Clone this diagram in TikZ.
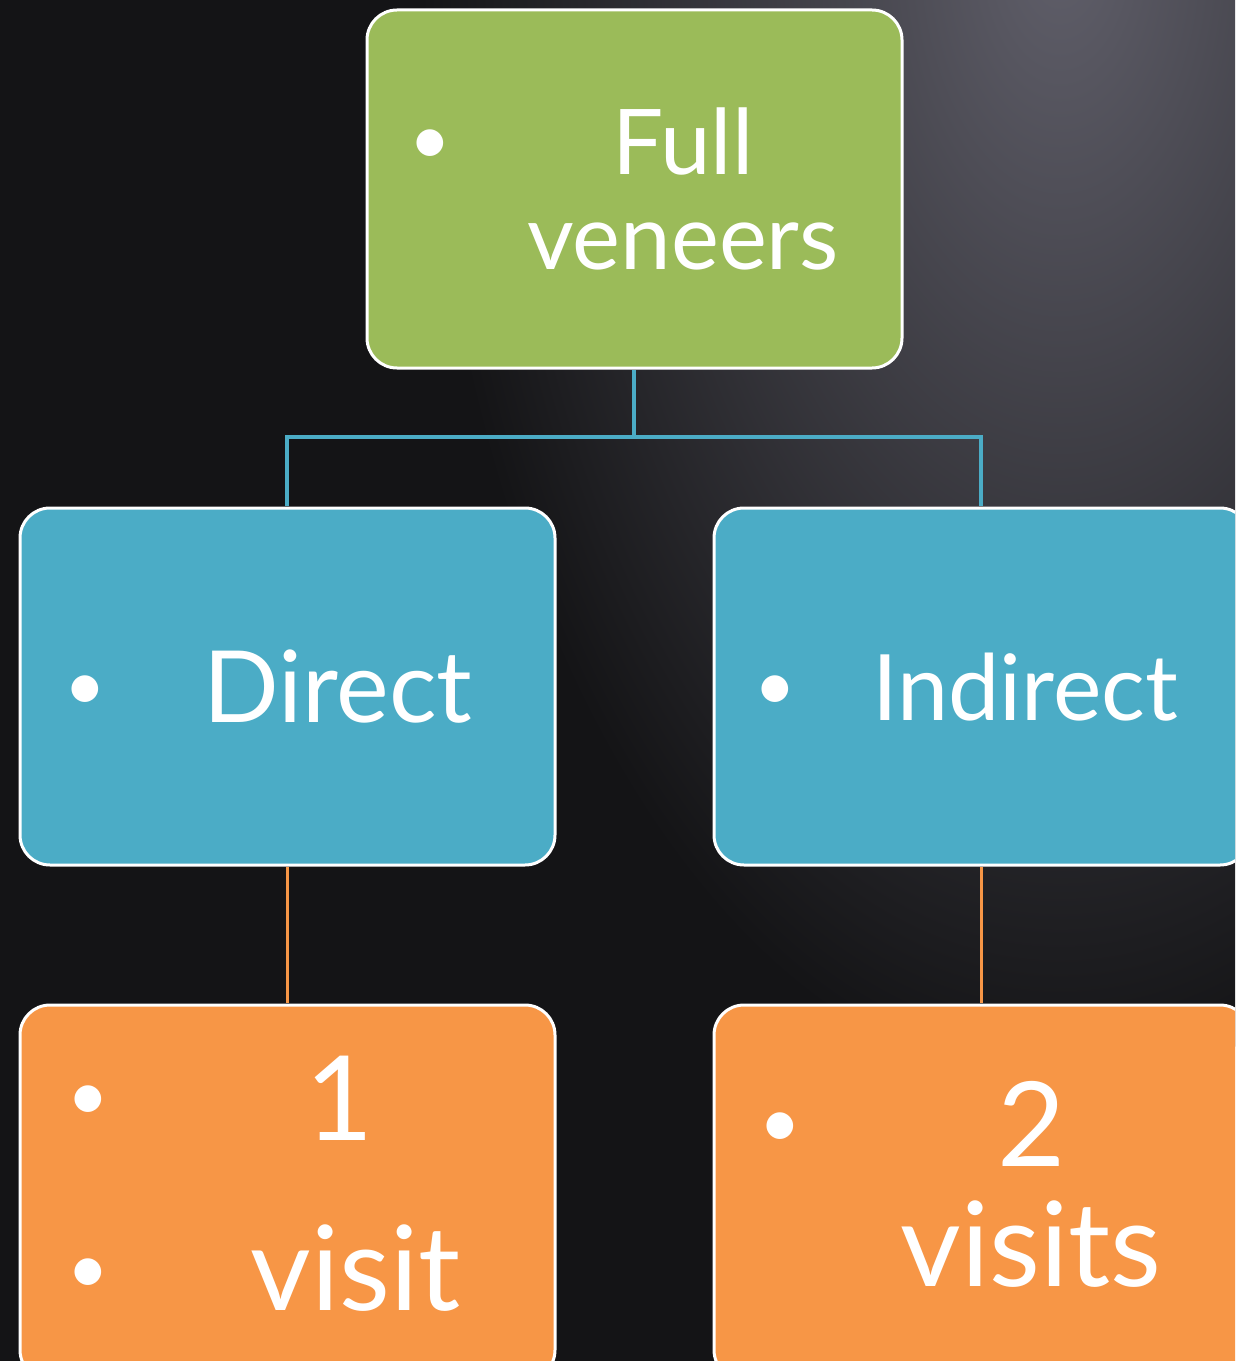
\documentclass[tikz,border=0pt]{standalone}
\usepackage{fontspec}
\setmainfont{Lato}
\definecolor{bgdark}{RGB}{20,20,22}
\definecolor{bglight}{RGB}{96,95,106}
\definecolor{grn}{RGB}{155,187,89}
\definecolor{blu}{RGB}{75,172,198}
\definecolor{org}{RGB}{247,150,70}
\tikzset{
  box/.style={draw=white, line width=3bp, rounded corners=30bp},
  lbl/.style={text=white, anchor=base, inner sep=0pt, font=\fontsize{100}{100}\selectfont},
  glbl/.style={lbl, font=\fontsize{91}{91}\selectfont},
  ilbl/.style={lbl, font=\fontsize{92}{92}\selectfont},
  olbl/.style={lbl, font=\fontsize{118}{118}\selectfont},
  blt/.style={text=white, anchor=base, inner sep=0pt, font=\fontsize{72}{72}\selectfont},
  bline/.style={draw=blu, line width=3.5bp},
  oline/.style={draw=org, line width=3bp}
}
\begin{document}
\begin{tikzpicture}[x=1bp,y=-1bp]
\useasboundingbox (0,0) rectangle (1235,1361);
\clip (0,0) rectangle (1235,1361);
\fill[bgdark] (0,0) rectangle (1235,1361);
\shade[inner color=bglight, outer color=bgdark] (1060,-60) ellipse [x radius=640, y radius=1150];
% connectors
\coordinate (hm) at (634,437);
% boxes
\path[box, fill=grn] (367,10) rectangle (902,368);
\node[inner sep=0pt] (top) at (634.5,189) {};
\path[box, fill=blu] (20,508) rectangle (555,865);
\node[inner sep=0pt] (dir) at (287.5,686.5) {};
\path[box, fill=blu] (714,508) rectangle (1250,865);
\node[inner sep=0pt] (ind) at (981,686.5) {};
\path[box, fill=org] (20,1005) rectangle (555,1380);
\path[box, fill=org] (714,1005) rectangle (1250,1380);
\coordinate (topb) at (634,370);
\coordinate (dirt) at (287,506);
\coordinate (indt) at (981,506);
\coordinate (dirb) at (287,867);
\coordinate (indb) at (981,867);
\coordinate (onet) at (287,1003);
\coordinate (twot) at (981,1003);
\draw[bline] (topb) -- (hm);
\draw[bline] (dirt) |- (hm) -| (indt);
\draw[oline] (dirb) -- (onet);
\draw[oline] (indb) -- (twot);
% texts
\node[blt] (b1) at (430,165) {•};
\node[glbl] (t1) at (683,175) {Full};
\node[glbl] (t2) at (683,270) {veneers};
\node[blt] (b2) at (85,710) {•};
\node[lbl] (t3) at (338,722) {Direct};
\node[blt] (b3) at (775,710) {•};
\node[ilbl] (t4) at (1025,720) {Indirect};
\node[blt] (b4) at (88,1120) {•};
\node[olbl] (t5) at (340,1140) {1};
\node[blt] (b5) at (88,1293) {•};
\node[olbl] (t6) at (356,1310) {visit};
\node[blt] (b6) at (780,1147) {•};
\node[olbl] (t7) at (1032,1166) {2};
\node[olbl] (t8) at (1031,1286) {visits};
\end{tikzpicture}
\end{document}
